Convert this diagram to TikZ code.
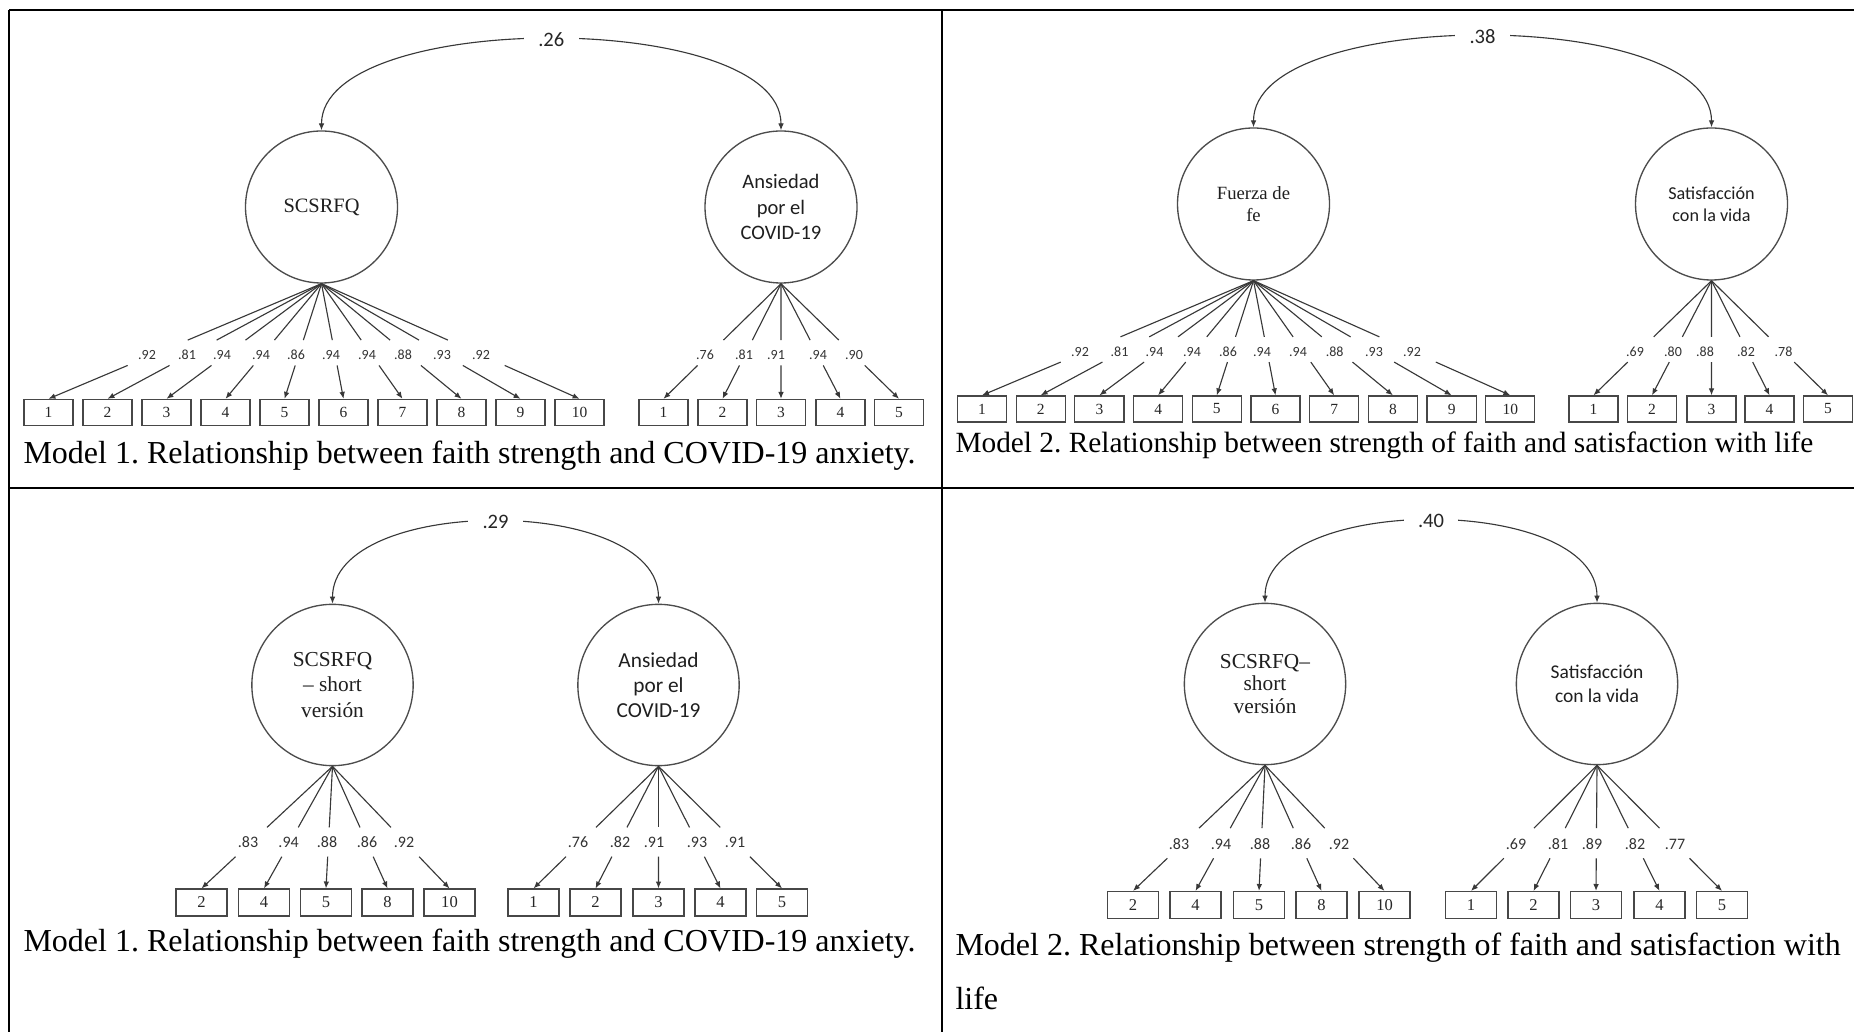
\documentclass[tikz,border=0pt]{standalone}
\usepackage{fontspec}
\setmainfont{Liberation Serif}
\newfontfamily\calfont{Carlito}
\usetikzlibrary{arrows.meta,calc}
\frenchspacing
\begin{document}
\begin{tikzpicture}[x=0.375pt,y=-0.375pt,
  tip/.style={-{Latex[length=2.6pt,width=2.1pt]}},
  dtip/.style={{Latex[length=2.6pt,width=2.1pt]}-{Latex[length=2.6pt,width=2.1pt]}},
  conn/.style={draw=black!78,line width=0.42pt},
  border/.style={draw=black,line width=0.95pt},
  latbase/.style={circle,draw=black!70,line width=0.5pt,inner sep=0pt,align=center,text=black!88},
  latT/.style={latbase,minimum size=57pt},
  latB/.style={latbase,minimum size=60.5pt},
  obsT/.style={rectangle,draw=black!72,line width=0.45pt,minimum width=18.4pt,minimum height=9.8pt,inner sep=0pt,text=black!85,font=\fontsize{5.8}{7}\selectfont},
  obsB/.style={rectangle,draw=black!72,line width=0.45pt,minimum width=19.1pt,minimum height=10.1pt,inner sep=0pt,text=black!85,font=\fontsize{6.2}{7.4}\selectfont},
  ldT/.style={inner sep=0pt,text=black!80,font=\calfont\fontsize{5.25}{6}\selectfont},
  ldB/.style={inner sep=0pt,text=black!80,font=\calfont\fontsize{6}{7}\selectfont},
  corr/.style={fill=white,inner xsep=5.4pt,inner ysep=2pt,text=black!85,font=\calfont\fontsize{7.7}{9}\selectfont},
  captext/.style={inner sep=0pt,anchor=base west,font=\fontsize{12}{14}\selectfont}
]
\useasboundingbox (0,0) rectangle (1854,1032);
\fill[white] (0,0) rectangle (1854,1032);
\clip (0,0) rectangle (1854,1032);

% frame
\draw[border] (9,10) -- (1900,10);
\draw[border] (9,10) -- (9,1100);
\draw[border] (942,10) -- (942,1100);
\draw[border] (9,488) -- (1900,488);

% ---------------- top-left panel ----------------
\node[latT,font=\rmfamily\fontsize{7.65}{9.4}\selectfont] (tlA) at (321.5,207) {SCSRFQ};
\node[latT,font=\calfont\fontsize{7.7}{9.4}\selectfont] (tlB) at (781,207) {Ansiedad\\por el\\COVID-19};
\draw[conn,dtip] (tlA.north) .. controls +(0,-121) and +(0,-121) .. (tlB.north)
  node[corr,pos=0.5] (tlC) {.26};
\foreach \i/\bx/\lx/\v in {1/48.5/147/.92,2/107.5/187/.81,3/166.5/222/.94,4/225.5/261/.94,5/284.5/296/.86,6/343.5/331/.94,7/402.5/367/.94,8/461.5/403/.88,9/520.5/442/.93,10/579.5/481/.92}{
  \node[obsT] (tlX\i) at (\bx,412.5) {\i};
  \draw[conn] (tlA.south) -- ($(tlA.south)!0.49!(tlX\i.north)$);
  \draw[conn,tip] ($(tlA.south)!0.71!(tlX\i.north)$) -- (tlX\i.north);
  \node[ldT] (tlXl\i) at (\lx,355) {\v};
}
\foreach \i/\bx/\lx/\v in {1/663.5/705/.76,2/722.5/744/.81,3/781/776/.91,4/840.5/818/.94,5/899/854/.90}{
  \node[obsT] (tlY\i) at (\bx,412.5) {\i};
  \draw[conn] (tlB.south) -- ($(tlB.south)!0.49!(tlY\i.north)$);
  \draw[conn,tip] ($(tlB.south)!0.71!(tlY\i.north)$) -- (tlY\i.north);
  \node[ldT] (tlYl\i) at (\lx,355) {\v};
}
\node[captext] (tlCap) at (23,464) {Model 1. Relationship between faith strength and COVID-19 anxiety.};

% ---------------- top-right panel ----------------
\node[latT,font=\rmfamily\fontsize{7}{8.25}\selectfont] (trA) at (1253.5,204) {Fuerza de\\fe};
\node[latT,font=\calfont\fontsize{6.8}{8.25}\selectfont] (trB) at (1711.5,204) {Satisfacción\\con la vida};
\draw[conn,dtip] (trA.north) .. controls +(0,-121) and +(0,-121) .. (trB.north)
  node[corr,pos=0.5] (trC) {.38};
\foreach \i/\bx/\lx/\v in {1/982/1080/.92,2/1040.7/1119.5/.81,3/1099.4/1154.5/.94,4/1158.1/1192/.94,5/1216.8/1228/.86,6/1275.5/1262/.94,7/1334.2/1298/.94,8/1392.9/1334.6/.88,9/1451.6/1374/.93,10/1510.3/1412/.92}{
  \node[obsT] (trX\i) at (\bx,409) {\i};
  \draw[conn] (trA.south) -- ($(trA.south)!0.49!(trX\i.north)$);
  \draw[conn,tip] ($(trA.south)!0.71!(trX\i.north)$) -- (trX\i.north);
  \node[ldT] (trXl\i) at (\lx,352) {\v};
}
\foreach \i/\bx/\lx/\v in {1/1593.5/1635/.69,2/1652/1673/.80,3/1711.5/1705/.88,4/1769.5/1746/.82,5/1828/1783.5/.78}{
  \node[obsT] (trY\i) at (\bx,409) {\i};
  \draw[conn] (trB.south) -- ($(trB.south)!0.49!(trY\i.north)$);
  \draw[conn,tip] ($(trB.south)!0.71!(trY\i.north)$) -- (trY\i.north);
  \node[ldT] (trYl\i) at (\lx,352) {\v};
}
\node[captext,font=\fontsize{11}{13}\selectfont] (trCap) at (955,453) {Model 2. Relationship between strength of faith and satisfaction with life};

% ---------------- bottom-left panel ----------------
\node[latB,font=\rmfamily\fontsize{8}{9.5}\selectfont] (blA) at (332.5,685) {SCSRFQ\\– short\\versión};
\node[latB,font=\calfont\fontsize{8}{9.5}\selectfont] (blB) at (658.5,685) {Ansiedad\\por el\\COVID-19};
\draw[conn,dtip] (blA.north) .. controls +(0,-109) and +(0,-109) .. (blB.north)
  node[corr,pos=0.5] (blC) {.29};
\foreach \i/\t/\bx/\lx/\v in {1/2/201.5/248/.83,2/4/264/288.6/.94,3/5/326/327/.88,4/8/387.5/367/.86,5/10/449.5/404/.92}{
  \node[obsB] (blX\i) at (\bx,902.5) {\t};
  \draw[conn] (blA.south) -- ($(blA.south)!0.5!(blX\i.north)$);
  \draw[conn,tip] ($(blA.south)!0.74!(blX\i.north)$) -- (blX\i.north);
  \node[ldB] (blXl\i) at (\lx,842) {\v};
}
\foreach \i/\bx/\lx/\v in {1/533.5/578/.76,2/595.5/620/.82,3/658.5/654/.91,4/720.5/697/.93,5/782/735/.91}{
  \node[obsB] (blY\i) at (\bx,902.5) {\i};
  \draw[conn] (blB.south) -- ($(blB.south)!0.5!(blY\i.north)$);
  \draw[conn,tip] ($(blB.south)!0.74!(blY\i.north)$) -- (blY\i.north);
  \node[ldB] (blYl\i) at (\lx,842) {\v};
}
\node[captext] (blCap) at (23,951) {Model 1. Relationship between faith strength and COVID-19 anxiety.};

% ---------------- bottom-right panel ----------------
\node[latB,font=\rmfamily\fontsize{8}{8.6}\selectfont] (brA) at (1265,684) {SCSRFQ–\\short\\versión};
\node[latB,font=\calfont\fontsize{7.3}{9}\selectfont] (brB) at (1597,684) {Satisfacción\\con la vida};
\draw[conn,dtip] (brA.north) .. controls +(0,-109) and +(0,-109) .. (brB.north)
  node[corr,pos=0.5] (brC) {.40};
\foreach \i/\t/\bx/\lx/\v in {1/2/1133/1179/.83,2/4/1195.5/1221/.94,3/5/1259/1260/.88,4/8/1321.5/1301/.86,5/10/1384.5/1339/.92}{
  \node[obsB] (brX\i) at (\bx,905) {\t};
  \draw[conn] (brA.south) -- ($(brA.south)!0.5!(brX\i.north)$);
  \draw[conn,tip] ($(brA.south)!0.74!(brX\i.north)$) -- (brX\i.north);
  \node[ldB] (brXl\i) at (\lx,844) {\v};
}
\foreach \i/\bx/\lx/\v in {1/1471/1516/.69,2/1533.5/1558/.81,3/1596/1592/.89,4/1659.5/1635/.82,5/1722/1675/.77}{
  \node[obsB] (brY\i) at (\bx,905) {\i};
  \draw[conn] (brB.south) -- ($(brB.south)!0.5!(brY\i.north)$);
  \draw[conn,tip] ($(brB.south)!0.74!(brY\i.north)$) -- (brY\i.north);
  \node[ldB] (brYl\i) at (\lx,844) {\v};
}
\node[captext] (brCap) at (955,955) {Model 2. Relationship between strength of faith and satisfaction with};
\node[captext] (brCap2) at (955,1009) {life};
\end{tikzpicture}
\end{document}
